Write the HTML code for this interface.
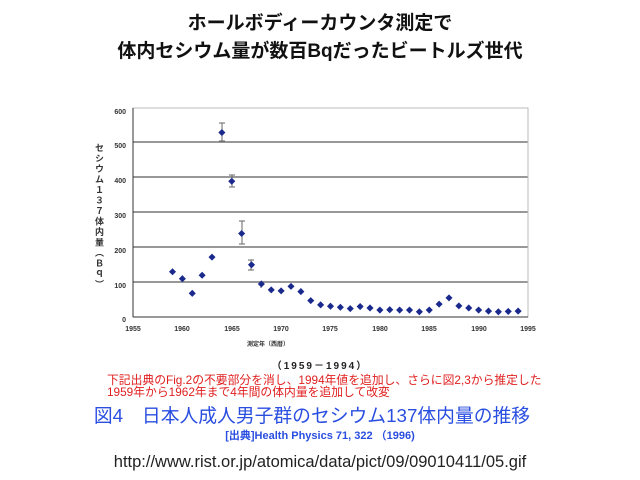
<!DOCTYPE html>
<html><head><meta charset="utf-8"><style>
body{margin:0;width:640px;height:480px;background:#fff;overflow:hidden;font-family:"Liberation Sans","Noto Sans CJK JP",sans-serif}
.t{position:absolute;left:0;width:640px;text-align:center;white-space:nowrap}
</style></head><body>
<div class="t" style="top:8px;font-size:19px;font-weight:bold;color:#111">ホールボディーカウンタ測定で</div>
<div class="t" style="top:36px;font-size:19px;font-weight:bold;color:#111">体内セシウム量が数百Bqだったビートルズ世代</div>
<svg width="640" height="480" style="position:absolute;left:0;top:0" font-family="Liberation Sans, Noto Sans CJK JP, sans-serif">
<g stroke="#777" stroke-width="1.5">
<line x1="133" y1="142" x2="528" y2="142"/><line x1="133" y1="177" x2="528" y2="177"/>
<line x1="133" y1="212" x2="528" y2="212"/><line x1="133" y1="247" x2="528" y2="247"/>
<line x1="133" y1="282" x2="528" y2="282"/>
</g>
<rect x="133" y="108" width="395" height="209" fill="none" stroke="#bbb"/>
<line x1="133" y1="108" x2="133" y2="317" stroke="#333"/>
<line x1="133" y1="317" x2="528" y2="317" stroke="#333"/>
<g font-size="7" font-weight="bold" fill="#333" text-anchor="end">
<text x="126" y="114">600</text><text x="126" y="148">500</text><text x="126" y="183">400</text>
<text x="126" y="218">300</text><text x="126" y="253">200</text><text x="126" y="288">100</text><text x="126" y="322">0</text>
</g>
<g font-size="7" font-weight="bold" fill="#333" text-anchor="middle">
<text x="133" y="331">1955</text><text x="182" y="331">1960</text><text x="232" y="331">1965</text><text x="281" y="331">1970</text>
<text x="330" y="331">1975</text><text x="380" y="331">1980</text><text x="429" y="331">1985</text><text x="479" y="331">1990</text><text x="528" y="331">1995</text>
<text x="268" y="346" font-size="6">測定年（西暦）</text>
</g>
<text font-size="9" font-weight="bold" fill="#333" x="99" y="143" style="writing-mode:vertical-rl;letter-spacing:1.5px">セシウム１３７体内量（Ｂｑ）</text>
<g stroke="#666" stroke-width="1">
<line x1="222" y1="123" x2="222" y2="141"/><line x1="219" y1="123" x2="225" y2="123"/><line x1="219" y1="141" x2="225" y2="141"/>
<line x1="232" y1="175" x2="232" y2="187"/><line x1="229" y1="175" x2="235" y2="175"/><line x1="229" y1="187" x2="235" y2="187"/>
<line x1="242" y1="221" x2="242" y2="244"/><line x1="239" y1="221" x2="245" y2="221"/><line x1="239" y1="244" x2="245" y2="244"/>
<line x1="251" y1="260" x2="251" y2="270"/><line x1="248" y1="260" x2="254" y2="260"/><line x1="248" y1="270" x2="254" y2="270"/>
<line x1="261" y1="281" x2="261" y2="288"/>
</g>
<g fill="#1a2a8c" id="pts"></g>
<text x="320" y="369" font-size="10" font-weight="bold" text-anchor="middle" fill="#222" letter-spacing="2">（1959－1994）</text>
</svg>
<div style="position:absolute;left:107px;top:374px;font-size:11.8px;color:#e02020;line-height:12px;white-space:nowrap">下記出典のFig.2の不要部分を消し、1994年値を追加し、さらに図2,3から推定した<br>1959年から1962年まで4年間の体内量を追加して改変</div>
<div class="t" style="top:401px;font-size:18.8px;color:#2a4ee0;left:-8px">図4　日本人成人男子群のセシウム137体内量の推移</div>
<div class="t" style="top:427px;font-size:11px;font-weight:bold;color:#2a4ee0">[出典]Health Physics 71, 322 （1996)</div>
<div class="t" style="top:453px;font-size:16.5px;color:#222">http://www.rist.or.jp/atomica/data/pict/09/09010411/05.gif</div>
<script>
var d=[130,110,68,120,172,530,390,240,150,95,78,75,88,73,47,35,31,28,24,30,26,20,21,20,20,15,20,37,55,32,26,20,17,15,16,17];
var g=document.getElementById('pts'),s='';
d.forEach(function(v,i){var x=133+(4+i)*9.875,y=317-v*0.348;
s+='<rect x="'+(x-2.5)+'" y="'+(y-2.5)+'" width="5" height="5" transform="rotate(45 '+x+' '+y+')"/>';});
g.innerHTML=s;
</script>
</body></html>
